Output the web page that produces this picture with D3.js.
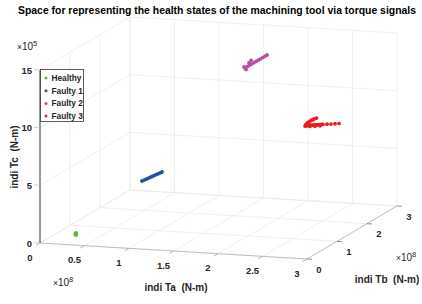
<!DOCTYPE html>
<html><head><meta charset="utf-8">
<script src="https://cdn.jsdelivr.net/npm/d3@7"></script>
<style>body{margin:0;background:#fff}svg{display:block}text{font-family:"Liberation Sans",Arial,sans-serif}</style>
</head><body>
<svg id="c" width="422" height="304"></svg>
<script>
// ---- data (Ta ×1e8, Tb ×1e8, Tc ×1e5) ----
const seriesNames = ["Healthy","Faulty 1","Faulty 2","Faulty 3"];
const seriesColors = ["#5cb83c","#2350a8","#b5509f","#ec1c24"];
const healthy = [[0.302,0.302,0.46],[0.302,0.302,0.54],[0.302,0.302,0.37],[0.298,0.298,0.46]];
const faulty1 = [[0.857,0.857,4.46],[0.874,0.874,4.52],[0.891,0.891,4.58],[0.908,0.908,4.64],[0.924,0.924,4.70],[0.941,0.941,4.76],[0.958,0.958,4.82],[0.975,0.975,4.88],[0.992,0.992,4.94],[1.008,1.008,5.00],[1.025,1.025,5.06]];
const faulty2 = [[1.723,1.723,13.33],[1.741,1.741,13.43],[1.760,1.760,13.52],[1.778,1.778,13.61],[1.797,1.797,13.71],[1.815,1.815,13.80],[1.834,1.834,13.89],[1.852,1.852,13.98],[1.871,1.871,14.08],[1.889,1.889,14.17],[1.908,1.908,14.26],[1.756,1.756,13.73],[1.773,1.773,13.93],[1.731,1.731,13.19],[1.714,1.714,13.43]];
const faulty3 = [[2.227,2.227,7.76],[2.240,2.240,7.77],[2.252,2.252,7.78],[2.265,2.265,7.78],[2.277,2.277,7.78],[2.290,2.290,7.77],[2.303,2.303,7.77],[2.315,2.315,7.76],[2.328,2.328,7.76],[2.340,2.340,7.76],[2.353,2.353,7.75],[2.366,2.366,7.75],[2.378,2.378,7.74],[2.412,2.412,7.72],[2.445,2.445,7.70],[2.479,2.479,7.69],[2.513,2.513,7.67],[2.269,2.269,7.68],[2.311,2.311,7.66],[2.353,2.353,7.65],[2.235,2.235,7.89],[2.244,2.244,7.96],[2.252,2.252,8.04],[2.265,2.265,8.11],[2.277,2.277,8.19],[2.290,2.290,8.23],[2.303,2.303,8.29],[2.324,2.324,8.35]];
const seriesData = [healthy, faulty1, faulty2, faulty3];
const taTicks = [0,0.5,1,1.5,2,2.5,3];
const taLabels = ["0","0.5","1","1.5","2","2.5","3"];
const tbTicks = [0,1,2,3];
const tbLabels = ["0","1","2","3"];
const tcTicks = [0,5,10,15];
const tcLabels = ["0","5","10","15"];
const title = "Space for representing the health states of the machining tool via torque signals";

// ---- projection ----
const O = [40,243], EX = [267,16], EY = [90,-53], EZ = [0,-173];
const sx = d3.scaleLinear().domain([0,3]).range([0,1]);
const sy = d3.scaleLinear().domain([0,3]).range([0,1]);
const sz = d3.scaleLinear().domain([0,15]).range([0,1]);
function P(a,b,c){const u=sx(a),v=sy(b),w=sz(c);return [O[0]+u*EX[0]+v*EY[0]+w*EZ[0], O[1]+u*EX[1]+v*EY[1]+w*EZ[1]];}

const svg = d3.select("#c");
const g = svg.append("g");
const line = (p,q,col,w)=>g.append("line").attr("x1",p[0]).attr("y1",p[1]).attr("x2",q[0]).attr("y2",q[1]).attr("stroke",col).attr("stroke-width",w);
const gridCol = "#e8e8e8";
// floor grid
taTicks.forEach(a=>line(P(a,0,0),P(a,3,0),gridCol,0.7));
tbTicks.forEach(b=>line(P(0,b,0),P(3,b,0),gridCol,0.7));
// back wall (Tb=3)
taTicks.forEach(a=>line(P(a,3,0),P(a,3,15),gridCol,0.7));
tcTicks.forEach(c=>line(P(0,3,c),P(3,3,c),gridCol,0.7));
// left wall (Ta=0)
tbTicks.forEach(b=>line(P(0,b,0),P(0,b,15),gridCol,0.7));
tcTicks.forEach(c=>line(P(0,0,c),P(0,3,c),gridCol,0.7));

// axes
line(P(0,0,0),P(3,0,0),"#b4b4b4",0.8);
line(P(3,0,0),P(3,3,0),"#b4b4b4",0.8);
line(P(0,0,0),P(0,0,15),"#262626",0.9);
// ticks
taTicks.forEach(a=>{const p=P(a,0,0);line(p,[p[0]-4.3,p[1]+2.5],"#999",0.7);});
tbTicks.forEach(b=>{const p=P(3,b,0);line(p,[p[0]+5,p[1]+0.3],"#666",0.7);});
tcTicks.forEach(c=>{const p=P(0,0,c);line(p,[p[0]-6,p[1]-0.4],"#bbb",0.7);});

// tick labels
const tl = (x,y,t,anchor)=>g.append("text").attr("x",x).attr("y",y).attr("text-anchor",anchor).attr("font-size",9.5).attr("font-weight","bold").attr("fill","#262626").text(t);
taTicks.forEach((a,i)=>{const p=P(a,0,0);tl(p[0]-10,p[1]+17.5,taLabels[i],"middle");});
tbTicks.forEach((b,i)=>{const p=P(3,b,0);tl(p[0]+12,p[1]+13.5,tbLabels[i],"middle");});
tcTicks.forEach((c,i)=>{const p=P(0,0,c);tl(p[0]-8,p[1]+3.5,tcLabels[i],"end");});

// exponents
function expo(x,y,e){const t=g.append("text").attr("x",x).attr("y",y).attr("font-size",10).attr("fill","#262626");
 t.append("tspan").attr("font-size",8.5).text("×");t.append("tspan").text("10");t.append("tspan").attr("font-size",7.5).attr("dy",-4.5).text(e);}
expo(17,50,"5");
expo(53,286,"8");
expo(396,261,"8");

// axis labels
g.append("text").attr("x",176).attr("y",291).attr("text-anchor","middle").attr("font-size",10).attr("font-weight","bold").attr("fill","#262626").attr("xml:space","preserve").text("indi Ta  (N-m)");
g.append("text").attr("x",387).attr("y",283).attr("text-anchor","middle").attr("font-size",10).attr("font-weight","bold").attr("fill","#262626").attr("xml:space","preserve").text("indi Tb  (N-m)");
g.append("text").attr("transform","translate(18,157) rotate(-90)").attr("text-anchor","middle").attr("font-size",10).attr("font-weight","bold").attr("fill","#262626").attr("xml:space","preserve").text("indi Tc  (N-m)");

// data
seriesData.forEach((d,i)=>{
 g.append("g").selectAll("circle").data(d).join("circle")
  .attr("cx",p=>P(p[0],p[1],p[2])[0]).attr("cy",p=>P(p[0],p[1],p[2])[1])
  .attr("r",i===0?2.1:1.9).attr("fill",seriesColors[i]);
});

// legend
const lg = g.append("g");
lg.append("rect").attr("x",40.5).attr("y",69.5).attr("width",43).attr("height",52).attr("fill","#fff").attr("stroke","#333").attr("stroke-width",0.8);
seriesNames.forEach((n,i)=>{
 const y=78+i*12.7;
 lg.append("circle").attr("cx",46).attr("cy",y).attr("r",1.5).attr("fill",seriesColors[i]);
 lg.append("text").attr("x",51.5).attr("y",y+3).attr("font-size",8.3).attr("font-weight","bold").attr("fill","#262626").text(n);
});

// title
svg.append("text").attr("x",217).attr("y",13.5).attr("text-anchor","middle").attr("font-size",10.5).attr("font-weight","bold").attr("fill","#000")
 .attr("textLength",398).attr("lengthAdjust","spacingAndGlyphs").text(title);
</script>
</body></html>
